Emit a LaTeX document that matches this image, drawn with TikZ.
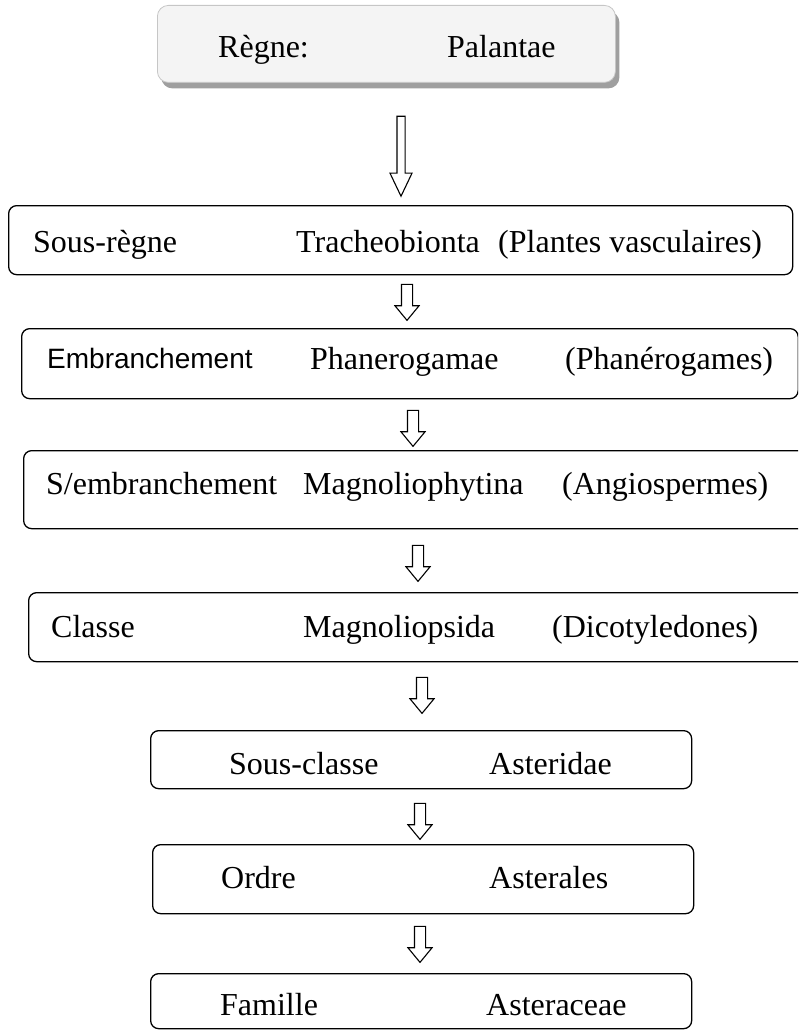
\documentclass[tikz,border=0pt]{standalone}
\usepackage{fontspec}
\setmainfont{Liberation Serif}
\newfontfamily\arialfam{Liberation Sans}
\usetikzlibrary{shapes.arrows, shadows}

\begin{document}
\begin{tikzpicture}[
    x=1pt, y=-1pt,
    box/.style  = {draw, line width=1.3pt, rounded corners=8pt, anchor=north west,
                   inner sep=0pt, minimum width=#1},
    lbl/.style  = {anchor=base west, inner sep=0pt, font=\fontsize{32}{38}\selectfont},
    slbl/.style = {anchor=base west, inner sep=0pt, font=\arialfam\fontsize{28}{34}\selectfont},
    arr/.style  = {draw, line width=1.1pt, single arrow, shape border rotate=270,
                   inner sep=5pt, single arrow head extend=6.5pt,
                   single arrow tip angle=79, minimum height=36pt},
]
\clip (0,0) rectangle (798,1030);

% Regne (top box)
\node[box=458pt, minimum height=77pt, draw=gray!45, line width=0.8pt,
      rounded corners=11pt, fill=gray!9,
      drop shadow={shadow xshift=4pt, shadow yshift=-6pt, fill=gray!75, opacity=1}]
      (regne) at (157,5) {};
\node[lbl] (regneA) at (218,58) {Règne:};
\node[lbl] (regneB) at (447,58) {Palantae};

\node[arr, inner sep=3.5pt, single arrow head extend=7pt, single arrow tip angle=51,
      minimum height=80pt] (a1) at (401,152) {};

% Sous-regne
\node[box=784pt, minimum height=69pt] (sreg) at (8,205) {};
\node[lbl] (sregA) at (33,252)  {Sous-règne};
\node[lbl] (sregB) at (296,252) {Tracheobionta};
\node[lbl] (sregC) at (498,252) {(Plantes vasculaires)};

\node[arr] (a2) at (407,299) {};

% Embranchement
\node[box=776.5pt, minimum height=70pt] (emb) at (21,328) {};
\node[slbl] (embA) at (47,368) {Embranchement};
\node[lbl]  (embB) at (310,369) {Phanerogamae};
\node[lbl]  (embC) at (565,369) {(Phanérogames)};

\node[arr] (a3) at (413,425) {};

% S/embranchement
\node[box=790pt, minimum height=78pt] (semb) at (23,450) {};
\node[lbl] (sembA) at (46,494)  {S/embranchement};
\node[lbl] (sembB) at (303,494) {Magnoliophytina};
\node[lbl] (sembC) at (562,494) {(Angiospermes)};

\node[arr] (a4) at (418,560) {};

% Classe
\node[box=785pt, minimum height=69pt] (cls) at (28,592) {};
\node[lbl] (clsA) at (51,637)  {Classe};
\node[lbl] (clsB) at (303,637) {Magnoliopsida};
\node[lbl] (clsC) at (552,637) {(Dicotyledones)};

\node[arr] (a5) at (422,692) {};

% Sous-classe
\node[box=541pt, minimum height=58pt] (scls) at (150,730) {};
\node[lbl] (sclsA) at (229,774) {Sous-classe};
\node[lbl] (sclsB) at (489,774) {Asteridae};

\node[arr] (a6) at (420,818) {};

% Ordre
\node[box=541pt, minimum height=69pt] (ord) at (152,844) {};
\node[lbl] (ordA) at (221,888) {Ordre};
\node[lbl] (ordB) at (489,888) {Asterales};

\node[arr] (a7) at (420,941) {};

% Famille
\node[box=541pt, minimum height=55pt] (fam) at (150,973) {};
\node[lbl] (famA) at (220,1015) {Famille};
\node[lbl] (famB) at (486,1015) {Asteraceae};

\end{tikzpicture}
\end{document}
